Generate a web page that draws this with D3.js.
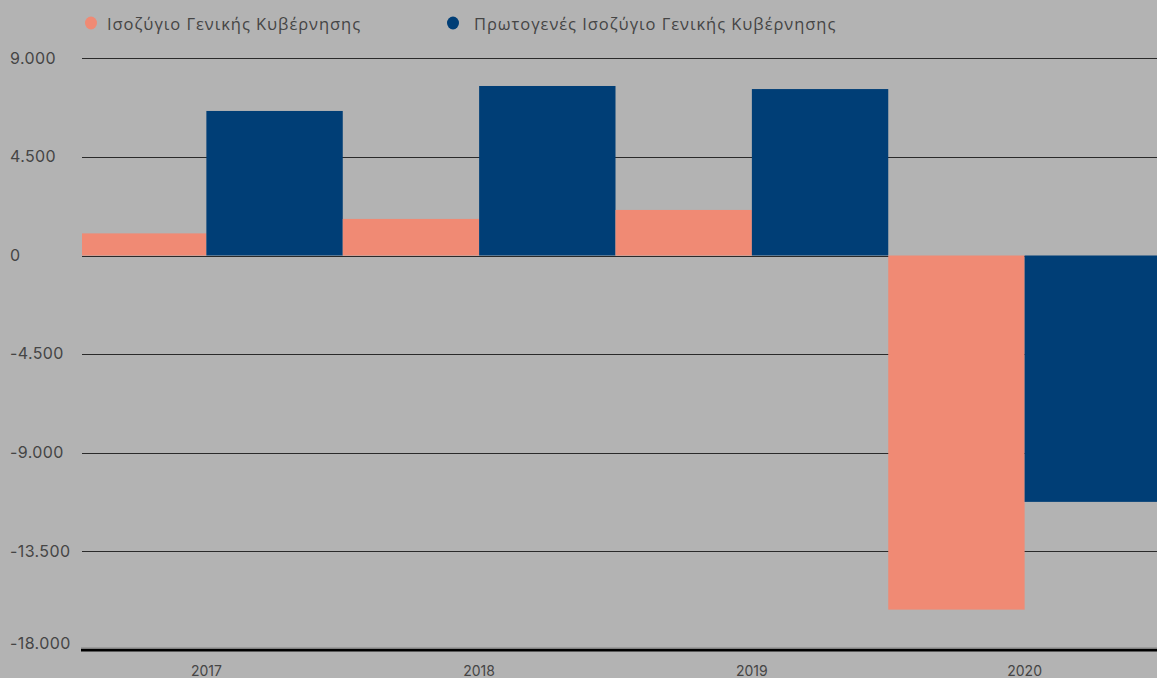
<!DOCTYPE html>
<html><head><meta charset="utf-8">
<script src="https://cdn.jsdelivr.net/npm/d3@7"></script>
<style>
html,body{margin:0;padding:0;background:#b3b3b3;overflow:hidden}
svg{display:block}
</style></head>
<body>
<script>
const categories = ["2017","2018","2019","2020"];
const seriesNames = ["Ισοζύγιο Γενικής Κυβέρνησης","Πρωτογενές Ισοζύγιο Γενικής Κυβέρνησης"];
const balance = [1010, 1670, 2080, -16170];
const primaryBalance = [6600, 7740, 7600, -11250];
const yTicks = [9000, 4500, 0, -4500, -9000, -13500, -18000];
const colors = ["#f08a74", "#003e76"];

const W = 1157, H = 678;
const svg = d3.select("body").append("svg").attr("width", W).attr("height", H);
svg.append("rect").attr("width", W).attr("height", H).attr("fill", "#b3b3b3");

const plotLeft = 82;
const y = d3.scaleLinear().domain([-18000, 9000]).range([649.7, 58.4]);
const x = d3.scaleBand().domain(categories).range([70, 1161]).paddingInner(0).paddingOuter(0);
const xs = d3.scaleBand().domain([0,1]).range([0, x.bandwidth()]).padding(0);

const fmt = v => d3.format(",")(Math.abs(v)).replace(/,/g, ".");
const fmtSigned = v => (v < 0 ? "-" : "") + fmt(v);

// grid lines
svg.append("g").selectAll("line").data(yTicks.filter(t => t !== -18000)).join("line")
  .attr("x1", plotLeft).attr("x2", W)
  .attr("y1", d => Math.round(y(d)) + 0.5).attr("y2", d => Math.round(y(d)) + 0.5)
  .attr("stroke", "#2a2a2a").attr("stroke-width", 1.2);

// y labels
svg.append("g").selectAll("text").data(yTicks).join("text")
  .attr("x", 10).attr("y", d => y(d) + (d === -18000 ? -5 : 1))
  .attr("dominant-baseline", "middle")
  .attr("font-family", "Inter, 'Open Sans', sans-serif").attr("font-size", 16)
  .attr("letter-spacing", 0.4)
  .attr("fill", "#454545")
  .text(d => fmtSigned(d));

// clip
svg.append("clipPath").attr("id", "plotclip").append("rect")
  .attr("x", plotLeft).attr("y", 0).attr("width", W - plotLeft).attr("height", H);

const data = categories.map((c, i) => ({cat: c, vals: [balance[i], primaryBalance[i]]}));
const bars = svg.append("g").attr("clip-path", "url(#plotclip)");
data.forEach(d => {
  d.vals.forEach((v, s) => {
    bars.append("rect")
      .attr("x", x(d.cat) + xs(s))
      .attr("width", xs.bandwidth())
      .attr("y", y(Math.max(0, v)))
      .attr("height", Math.abs(y(v) - y(0)))
      .attr("fill", colors[s]);
  });
});

// bottom axis line
svg.append("line").attr("x1", plotLeft - 1).attr("x2", W)
  .attr("y1", y(-18000) - 1.5).attr("y2", y(-18000) - 1.5)
  .attr("stroke", "#6a6a6a").attr("stroke-width", 1);
svg.append("line").attr("x1", plotLeft - 1).attr("x2", W)
  .attr("y1", y(-18000) + 0.5).attr("y2", y(-18000) + 0.5)
  .attr("stroke", "#000").attr("stroke-width", 2.5);

// x labels
svg.append("g").selectAll("text").data(categories).join("text")
  .attr("x", d => x(d) + x.bandwidth() / 2)
  .attr("y", 676)
  .attr("text-anchor", "middle")
  .attr("font-family", "Inter, 'Open Sans', sans-serif").attr("font-size", 14)
  .attr("fill", "#454545")
  .text(d => d);

// legend
const legX = [91, 453];
const legTextX = [107, 474];
const leg = svg.append("g");
seriesNames.forEach((n, i) => {
  leg.append("ellipse").attr("cx", legX[i]).attr("cy", 23).attr("rx", 6).attr("ry", 6.5).attr("fill", colors[i]);
  leg.append("text").attr("x", legTextX[i]).attr("y", 29.5)
    .attr("font-family", "'Open Sans', sans-serif").attr("font-size", 16.5)
    .attr("letter-spacing", 0.95)
    .attr("fill", "#454545").text(n);
});
</script>
</body></html>
